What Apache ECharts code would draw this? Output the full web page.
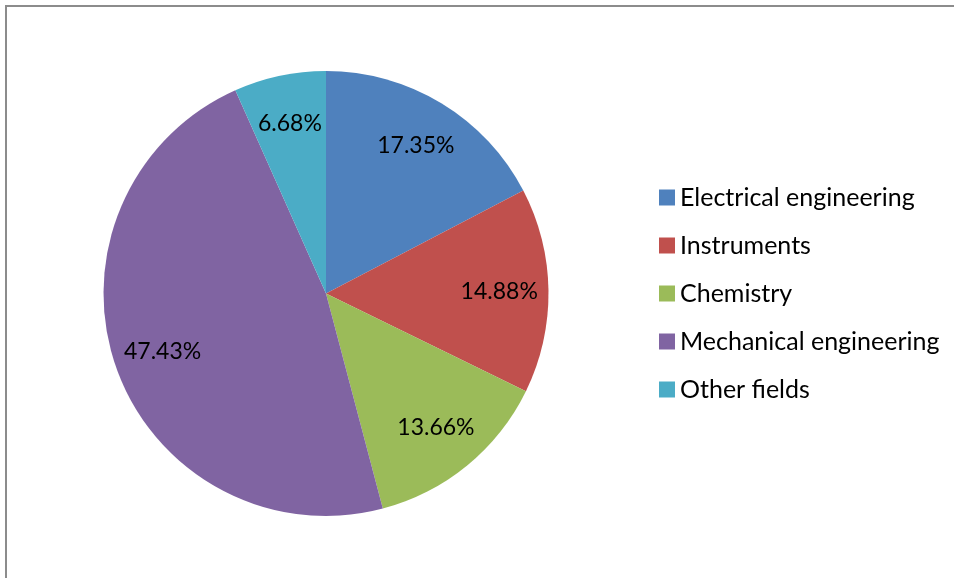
<!DOCTYPE html>
<html>
<head>
<meta charset="utf-8">
<script src="https://cdn.jsdelivr.net/npm/echarts@6/dist/echarts.min.js"></script>
<style>html,body{margin:0;padding:0;background:#fff;}#main{width:954px;height:578px;}</style>
</head>
<body>
<div id="main"></div>
<script>
const categories = ['Electrical engineering', 'Instruments', 'Chemistry', 'Mechanical engineering', 'Other fields'];
const shares = [17.35, 14.88, 13.66, 47.43, 6.68];
const colors = ['#4F81BD', '#C0504D', '#9BBB59', '#8064A2', '#4BACC6'];

const data = categories.map((c, i) => ({ name: c, value: shares[i], itemStyle: { color: colors[i] } }));
const FONT = 'Lato, "Liberation Sans", sans-serif';

const chart = echarts.init(document.getElementById('main'), null, { renderer: 'canvas' });
chart.setOption({
  animation: false,
  backgroundColor: '#fff',
  graphic: [
    { type: 'rect', shape: { x: 5, y: 5, width: 949, height: 2 }, style: { fill: '#8c8c8c' } },
    { type: 'rect', shape: { x: 5, y: 5, width: 2, height: 573 }, style: { fill: '#8c8c8c' } }
  ],
  legend: {
    orient: 'vertical',
    left: 659,
    top: 185,
    padding: 0,
    icon: 'rect',
    itemWidth: 16,
    itemHeight: 16,
    itemGap: 23,
    textStyle: { fontFamily: FONT, fontSize: 25, color: '#000', lineHeight: 24 },
    data: categories
  },
  series: [
    {
      type: 'pie',
      center: [326, 293.5],
      radius: [0, 222.5],
      startAngle: 90,
      clockwise: true,
      label: { show: false },
      labelLine: { show: false },
      itemStyle: { borderWidth: 0 },
      emphasis: { disabled: true },
      data: data
    },
    {
      type: 'pie',
      center: [326, 293.5],
      radius: [118, 222.5],
      startAngle: 90,
      clockwise: true,
      silent: true,
      legendHoverLink: false,
      label: {
        show: true,
        position: 'inside',
        formatter: p => p.value.toFixed(2) + '%',
        fontFamily: FONT,
        fontSize: 23,
        color: '#000'
      },
      labelLine: { show: false },
      itemStyle: { color: 'rgba(0,0,0,0)', borderWidth: 0 },
      emphasis: { disabled: true },
      data: categories.map((c, i) => ({ name: c + ' ', value: shares[i] }))
    }
  ]
});
</script>
</body>
</html>
